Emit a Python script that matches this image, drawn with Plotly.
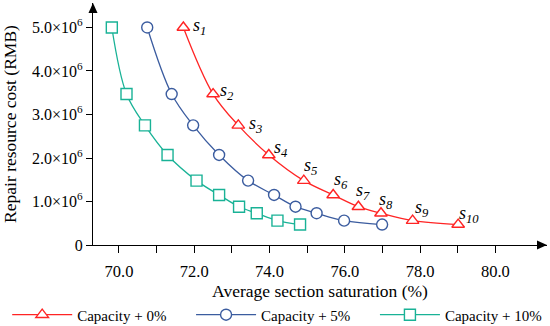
import plotly.graph_objects as go

# ---- data ----
cost = [5.0e6, 3.47e6, 2.75e6, 2.07e6, 1.48e6, 1.15e6, 0.88e6, 0.73e6, 0.56e6, 0.47e6]
sat_cap0 = [71.71, 72.50, 73.17, 73.98, 74.91, 75.69, 76.36, 76.96, 77.80, 79.01]
sat_cap5 = [70.75, 71.40, 71.97, 72.66, 73.43, 74.12, 74.69, 75.25, 75.98, 76.99]
sat_cap10 = [69.81, 70.20, 70.69, 71.29, 72.06, 72.66, 73.19, 73.66, 74.21, 74.81]
series_names = ["Capacity + 0%", "Capacity + 5%", "Capacity + 10%"]
point_labels = ["s<sub>%d</sub>" % i for i in range(1, 11)]
x_major = [70, 72, 74, 76, 78, 80]
x_minor = [71, 73, 75, 77, 79]
y_ticks = [0, 1e6, 2e6, 3e6, 4e6, 5e6]
y_ticktext = ["0"] + ["%.1f×10<sup>6</sup>" % (v / 1e6) for v in y_ticks[1:]]

# label offsets (px) for the s_i labels
lab_dx = [16, 14, 17, 12, 7, 8, 5, 5, 9, 11]
lab_dy = [1, 3, 1, 6, 14, 14, 15, 13, 12, 10]

FONT = "Liberation Serif"
colors = ["#ff2424", "#3b5c9f", "#19b296"]
symbols = ["triangle-up", "circle", "square"]
legend_ids = ["legend", "legend2", "legend3"]
legend_x = [-0.189, 0.216, 0.621]

fig = go.Figure()
for xs, name, c, s, lid in zip([sat_cap0, sat_cap5, sat_cap10], series_names, colors, symbols, legend_ids):
    fig.add_trace(go.Scatter(
        x=xs, y=cost, name=name, mode="lines+markers", legend=lid,
        line=dict(color=c, width=1.3, shape="spline", smoothing=1.0),
        marker=dict(symbol=s, size=11, color="white", line=dict(color=c, width=1.4)),
    ))

for x, y, t, dx, dy in zip(sat_cap0, cost, point_labels, lab_dx, lab_dy):
    fig.add_annotation(x=x, y=y, text="<i>" + t + "</i>", showarrow=False,
                       xshift=dx, yshift=dy, xanchor="center", yanchor="middle",
                       font=dict(family=FONT, size=18, color="black"))

# arrowheads on axes
W, H = 454, 242
fig.add_shape(type="path", xref="paper", yref="paper",
              path="M 1,0 L %f,%f L %f,%f Z" % (1 - 10 / W, 4.5 / H, 1 - 10 / W, -4.5 / H),
              fillcolor="black", line=dict(color="black", width=0))
fig.add_shape(type="path", xref="paper", yref="paper",
              path="M 0,1 L %f,%f L %f,%f Z" % (-4.5 / W, 1 - 10 / H, 4.5 / W, 1 - 10 / H),
              fillcolor="black", line=dict(color="black", width=0))

legend_style = dict(orientation="h", y=-0.289, xanchor="left", yanchor="middle",
                    itemwidth=60, font=dict(family=FONT, size=15), bgcolor="rgba(0,0,0,0)")

fig.update_layout(
    width=550, height=326,
    margin=dict(l=93, r=3, t=3, b=81, autoexpand=False),
    plot_bgcolor="white", paper_bgcolor="white",
    font=dict(family=FONT, size=15, color="black"),
    showlegend=True,
    legend=dict(x=legend_x[0], **legend_style),
    legend2=dict(x=legend_x[1], **legend_style),
    legend3=dict(x=legend_x[2], **legend_style),
    xaxis=dict(range=[69.31, 81.37], showline=True, linecolor="black", linewidth=1.3,
               tickvals=x_major, ticktext=["%.1f" % v for v in x_major],
               ticks="outside", ticklen=7, tickwidth=1.2, tickcolor="black",
               ticklabelstandoff=4, automargin=False,
               minor=dict(tickvals=x_minor, ticks="outside", ticklen=7, tickwidth=1.2, tickcolor="black"),
               showgrid=False, zeroline=False,
               tickfont=dict(family=FONT, size=16.5),
               title=dict(text="Average section saturation (%)", font=dict(family=FONT, size=17.5), standoff=4)),
    yaxis=dict(range=[0, 5.563e6], showline=True, linecolor="black", linewidth=1.3,
               tickvals=y_ticks, ticktext=y_ticktext,
               ticks="outside", ticklen=6, tickwidth=1.2, tickcolor="black",
               showgrid=False, zeroline=False, automargin=False,
               tickfont=dict(family=FONT, size=16),
               title=dict(text="Repair resource cost (RMB)", font=dict(family=FONT, size=17.5), standoff=10)),
)

fig.write_html("out.html", config={"displayModeBar": False},
               post_script="document.body.style.margin='0';document.body.style.padding='0';")
